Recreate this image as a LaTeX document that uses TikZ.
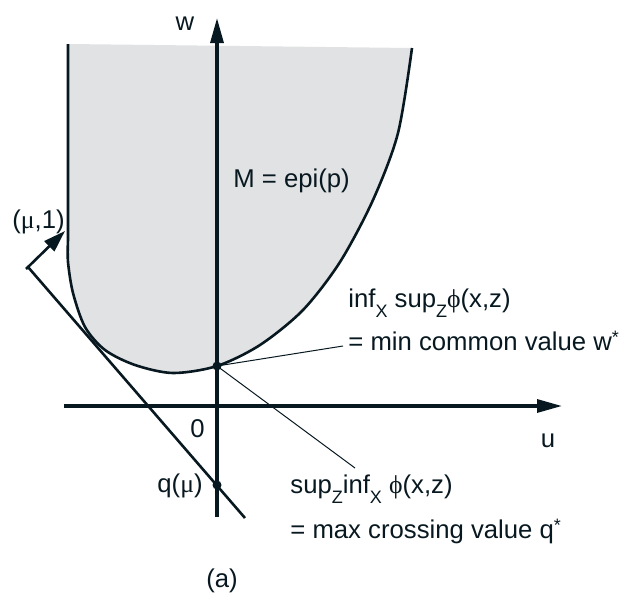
\documentclass[tikz,border=0pt]{standalone}
\usepackage{fontspec}
\setmainfont{Liberation Sans}
\newfontfamily\grk{Liberation Serif}
\usetikzlibrary{arrows.meta}
\definecolor{ink}{RGB}{8,24,32}
\definecolor{shadegray}{RGB}{225,226,228}
\newcommand{\subs}[1]{\raisebox{-0.4em}{\fontsize{9}{9}\selectfont #1}}
\newcommand{\astr}{\raisebox{0.25em}{\fontsize{9}{9}\selectfont *}}
\begin{document}
\begin{tikzpicture}[x=0.5pt,y=-0.5pt,
  lbl/.style={inner sep=0pt, text=ink, font=\fontsize{12.85}{15}\selectfont},
  axis/.style={draw=ink, line width=1.6pt, -{Triangle[length=12.5pt,width=6.5pt]}},
  bdry/.style={draw=ink, line width=1.3pt},
  tline/.style={draw=ink, line width=1.3pt},
  normalarrow/.style={draw=ink, line width=1.3pt, -{Triangle[length=11pt,width=7pt]}},
  thinline/.style={draw=ink, line width=0.5pt},
  dotnode/.style={circle, fill=ink, inner sep=0pt, minimum size=4.5pt}]
\useasboundingbox (0,0) rectangle (627,595);

% epigraph region
\fill[shadegray] (68,44) -- (412,48) -- plot[smooth] coordinates {(412,48) (398,133) (373,200) (340,262) (303,310) (260,345) (217,366) (173,373) (135,365) (105,350) (85,327) (73,293) (68,262) (68,240)} -- cycle;

% axes
\coordinate (uleft) at (64,406);
\coordinate (uright) at (562,406);
\coordinate (wbot) at (217,517);
\coordinate (wtop) at (217,18);
\draw[axis] (uleft) -- (uright);
\draw[axis] (wbot) -- (wtop);

% boundary of M
\draw[bdry] plot[smooth] coordinates {(412,48) (398,133) (373,200) (340,262) (303,310) (260,345) (217,366) (173,373) (135,365) (105,350) (85,327) (73,293) (68,262) (68,240)} -- (68,44);

% supporting line and normal
\coordinate (t1) at (28,267);
\coordinate (t2) at (245,518);
\draw[tline] (t1) -- (t2);
\coordinate (n1) at (26,269);
\coordinate (n2) at (65,231);
\draw[normalarrow] (n1) -- (n2);

% points
\node[dotnode] (wstar) at (217,366) {};
\node[dotnode] (qmu) at (217,485) {};

% leader lines
\coordinate (c1) at (343,346);
\coordinate (c2) at (355,468);
\draw[thinline] (wstar.center) -- (c1);
\draw[thinline] (wstar.center) -- (c2);

% labels
\node[lbl, anchor=base] (wlab) at (185,30) {w};
\node[lbl, anchor=base] (ulab) at (548,447) {u};
\node[lbl, anchor=base east] (zero) at (205,437) {0};
\node[lbl, anchor=base east] (qlab) at (203,492) {q({\grk μ})};
\node[lbl, anchor=base west] (mulab) at (12,228) {({\grk μ},1)};
\node[lbl, anchor=base west] (Mlab) at (233,187) {M = epi(p)};
\node[lbl, anchor=base west] (inf1) at (348,307) {inf\subs{X} sup\subs{Z}{\grk ϕ}(x,z)};
\node[lbl, anchor=base west] (min1) at (348,350) {= min common value w\astr};
\node[lbl, anchor=base west] (sup1) at (290,493) {sup\subs{Z}inf\subs{X} {\grk ϕ}(x,z)};
\node[lbl, anchor=base west] (max1) at (290,538) {= max crossing value q\astr};
\node[lbl, anchor=base] (alab) at (222,587) {(a)};
\end{tikzpicture}
\end{document}
